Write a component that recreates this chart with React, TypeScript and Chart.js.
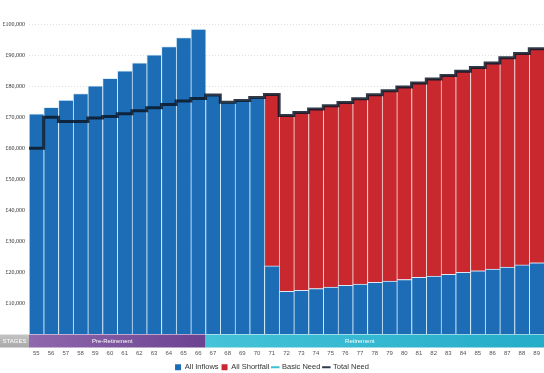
import React, { useEffect, useRef } from "react";
import { Chart, registerables } from "chart.js";

Chart.register(...registerables);

const ages = [
  "55", "56", "57", "58", "59", "60", "61", "62", "63", "64", "65", "66",
  "67", "68", "69", "70", "71", "72", "73", "74", "75", "76", "77", "78",
  "79", "80", "81", "82", "83", "84", "85", "86", "87", "88", "89",
];

const allInflows = [
  71100, 73200, 75500, 77600, 80100, 82500, 84900, 87500, 90100, 92700, 95600, 98400,
  77100, 74800, 75400, 76300, 22100, 13900, 14200, 14800, 15300, 15800, 16200, 16800,
  17200, 17700, 18400, 18800, 19400, 20000, 20500, 21100, 21700, 22400, 23100,
];

const allShortfall = [
  0, 0, 0, 0, 0, 0, 0, 0, 0, 0, 0, 0,
  0, 0, 0, 0, 55200, 56600, 57300, 57800, 58400, 58900, 59700, 60400,
  61300, 62000, 62600, 63500, 64000, 64800, 65500, 66300, 67400, 68100, 68900,
];

const totalNeed = [
  60000, 70000, 68600, 68600, 69700, 70200, 71100, 72100, 73000, 74100, 75200, 76000,
  77100, 74800, 75400, 76300, 77300, 70500, 71500, 72600, 73700, 74700, 75900, 77200,
  78500, 79700, 81000, 82300, 83400, 84800, 86000, 87400, 89100, 90500, 92000,
];

const basicNeed: number[] = [];

const stageNames = ["Pre-Retirement", "Retirement"];
const stageFrom = ["55", "67"];
const stageTo = ["66", "89"];
const stagesTitle = "STAGES";

const yTicks = [0, 10000, 20000, 30000, 40000, 50000, 60000, 70000, 80000, 90000, 100000];

const toPoints = (vals: number[]) => vals.map((v, i) => ({ x: i, y: v }));

// stepped line points spanning the full width of each bar
const stepPoints = (vals: number[]) => {
  const pts = vals.map((v, i) => ({ x: i - 0.5, y: v }));
  if (vals.length) pts.push({ x: vals.length - 0.5, y: vals[vals.length - 1] });
  return pts;
};

const FONT = "'Liberation Sans', Arial, sans-serif";

const fullWidthPlugin = {
  id: "fullWidth",
  afterLayout(chart: any) {
    const area = chart.chartArea;
    const x = chart.scales.x;
    if (area.right < chart.width) {
      area.right = chart.width;
      area.width = area.right - area.left;
      x.right = chart.width;
      x.width = x.right - x.left;
      x.configure();
    }
  },
};

const stagesPlugin = {
  id: "stagesBand",
  afterDraw(chart: any) {
    const { ctx, chartArea } = chart;
    const x = chart.scales.x;
    const top = chartArea.bottom;
    const h = 13;
    ctx.save();
    const g0 = ctx.createLinearGradient(0, top, 0, top + h);
    g0.addColorStop(0, "#c4c4c4");
    g0.addColorStop(1, "#a8a8a8");
    ctx.fillStyle = g0;
    ctx.fillRect(0, top, chartArea.left, h);
    ctx.fillStyle = "#ffffff";
    ctx.font = "6px " + FONT;
    ctx.textAlign = "center";
    ctx.textBaseline = "middle";
    ctx.fillText(stagesTitle, chartArea.left / 2, top + h / 2 + 0.5);
    const colors = [
      ["#9068ad", "#6b4290"],
      ["#45c3d8", "#25acc9"],
    ];
    const shift = [-5, -15];
    stageNames.forEach((name, i) => {
      const a = x.getPixelForValue(ages.indexOf(stageFrom[i]) - 0.5);
      const b = x.getPixelForValue(ages.indexOf(stageTo[i]) + 0.5);
      const g = ctx.createLinearGradient(a, top, b, top + h);
      g.addColorStop(0, colors[i][0]);
      g.addColorStop(1, colors[i][1]);
      ctx.fillStyle = g;
      ctx.fillRect(a, top, b - a, h);
      ctx.fillStyle = "#ffffff";
      ctx.fillText(name, (a + b) / 2 + shift[i], top + h / 2 + 0.5);
    });
    ctx.restore();
  },
};

export default function App() {
  const ref = useRef<HTMLCanvasElement | null>(null);

  useEffect(() => {
    if (!ref.current) return;
    const chart = new Chart(ref.current, {
      type: "bar",
      data: {
        datasets: [
          {
            type: "bar",
            label: "All Inflows",
            data: toPoints(allInflows),
            backgroundColor: "#1c6db5",
            borderColor: "rgba(215,238,252,0.9)",
            borderWidth: { left: 1, top: 1, right: 0, bottom: 0 },
            borderSkipped: false,
            barPercentage: 1,
            categoryPercentage: 1,
            stack: "bars",
            order: 2,
          },
          {
            type: "bar",
            label: "All Shortfall",
            data: toPoints(allShortfall),
            backgroundColor: "#c8282e",
            borderColor: "rgba(240,215,215,0.9)",
            borderWidth: { left: 1, top: 0, right: 0, bottom: 0 },
            borderSkipped: false,
            barPercentage: 1,
            categoryPercentage: 1,
            stack: "bars",
            order: 2,
          },
          {
            type: "line",
            label: "Basic Need",
            data: basicNeed,
            borderColor: "#3ec1d5",
            backgroundColor: "#3ec1d5",
            borderWidth: 3,
            pointRadius: 0,
            stack: "basic",
            order: 1,
          },
          {
            type: "line",
            label: "Total Need",
            data: stepPoints(totalNeed),
            borderColor: "rgba(12,24,40,0.85)",
            backgroundColor: "rgba(12,24,40,0.85)",
            borderWidth: 3,
            pointRadius: 0,
            stepped: "before",
            fill: false,
            stack: "total",
            order: 0,
          },
        ] as any,
      },
      options: {
        responsive: false,
        animation: false,
        layout: { autoPadding: false, padding: { top: 24, left: 0, right: 0, bottom: -8 } },
        plugins: {
          tooltip: { enabled: false },
          legend: {
            position: "bottom",
            labels: {
              usePointStyle: true,
              boxWidth: 6,
              boxHeight: 6,
              padding: 3,
              color: "#333333",
              font: { size: 7.5, family: FONT },
              sort: (a: any, b: any) => a.datasetIndex - b.datasetIndex,
              generateLabels: (ch: any) => {
                const items = Chart.defaults.plugins.legend.labels.generateLabels(ch);
                return items.map((it: any) => {
                  const ds = ch.data.datasets[it.datasetIndex];
                  const isLine = ds.type === "line";
                  return {
                    ...it,
                    pointStyle: isLine ? "line" : "rect",
                    fillStyle: ds.backgroundColor,
                    strokeStyle: isLine ? ds.borderColor : ds.backgroundColor,
                    lineWidth: isLine ? 2 : 0,
                  };
                });
              },
            },
          },
        },
        scales: {
          x: {
            type: "linear",
            stacked: true,
            offset: false,
            min: -0.5,
            max: ages.length - 0.5,
            afterBuildTicks: (s: any) => {
              s.ticks = ages.map((_, i) => ({ value: i }));
            },
            grid: { display: false, drawTicks: false, offset: false },
            border: { display: false },
            ticks: {
              padding: 15,
              color: "#555555",
              font: { size: 6, family: FONT },
              maxRotation: 0,
              autoSkip: false,
              callback: (v: any) => ages[Math.round(Number(v))] ?? "",
            },
            afterFit: (s: any) => {
              s.height = 26;
            },
          },
          y: {
            stacked: true,
            min: 0,
            max: 100000,
            afterBuildTicks: (s: any) => {
              s.ticks = yTicks.map((v) => ({ value: v }));
            },
            grid: {
              color: (c: any) => (c.tick && c.tick.value === 0 ? "rgba(0,0,0,0)" : "#e0e0e0"),
              drawTicks: false,
            },
            border: { display: false, dash: [1, 2] },
            ticks: {
              padding: 4,
              color: "#333333",
              font: { size: 6, family: "'Liberation Serif', serif" },
              callback: (v: any) => (v === 0 ? "" : "£" + Number(v).toLocaleString("en-GB")),
            },
            afterFit: (s: any) => {
              s.width = 29;
            },
          },
        },
      } as any,
      plugins: [fullWidthPlugin, stagesPlugin],
    });
    return () => chart.destroy();
  }, []);

  return (
    <div
      style={{
        position: "fixed",
        left: 0,
        top: 0,
        width: 544,
        height: 373,
        overflow: "hidden",
        background: "#ffffff",
      }}
    >
      <canvas ref={ref} width={544} height={373} style={{ display: "block" }} />
    </div>
  );
}
